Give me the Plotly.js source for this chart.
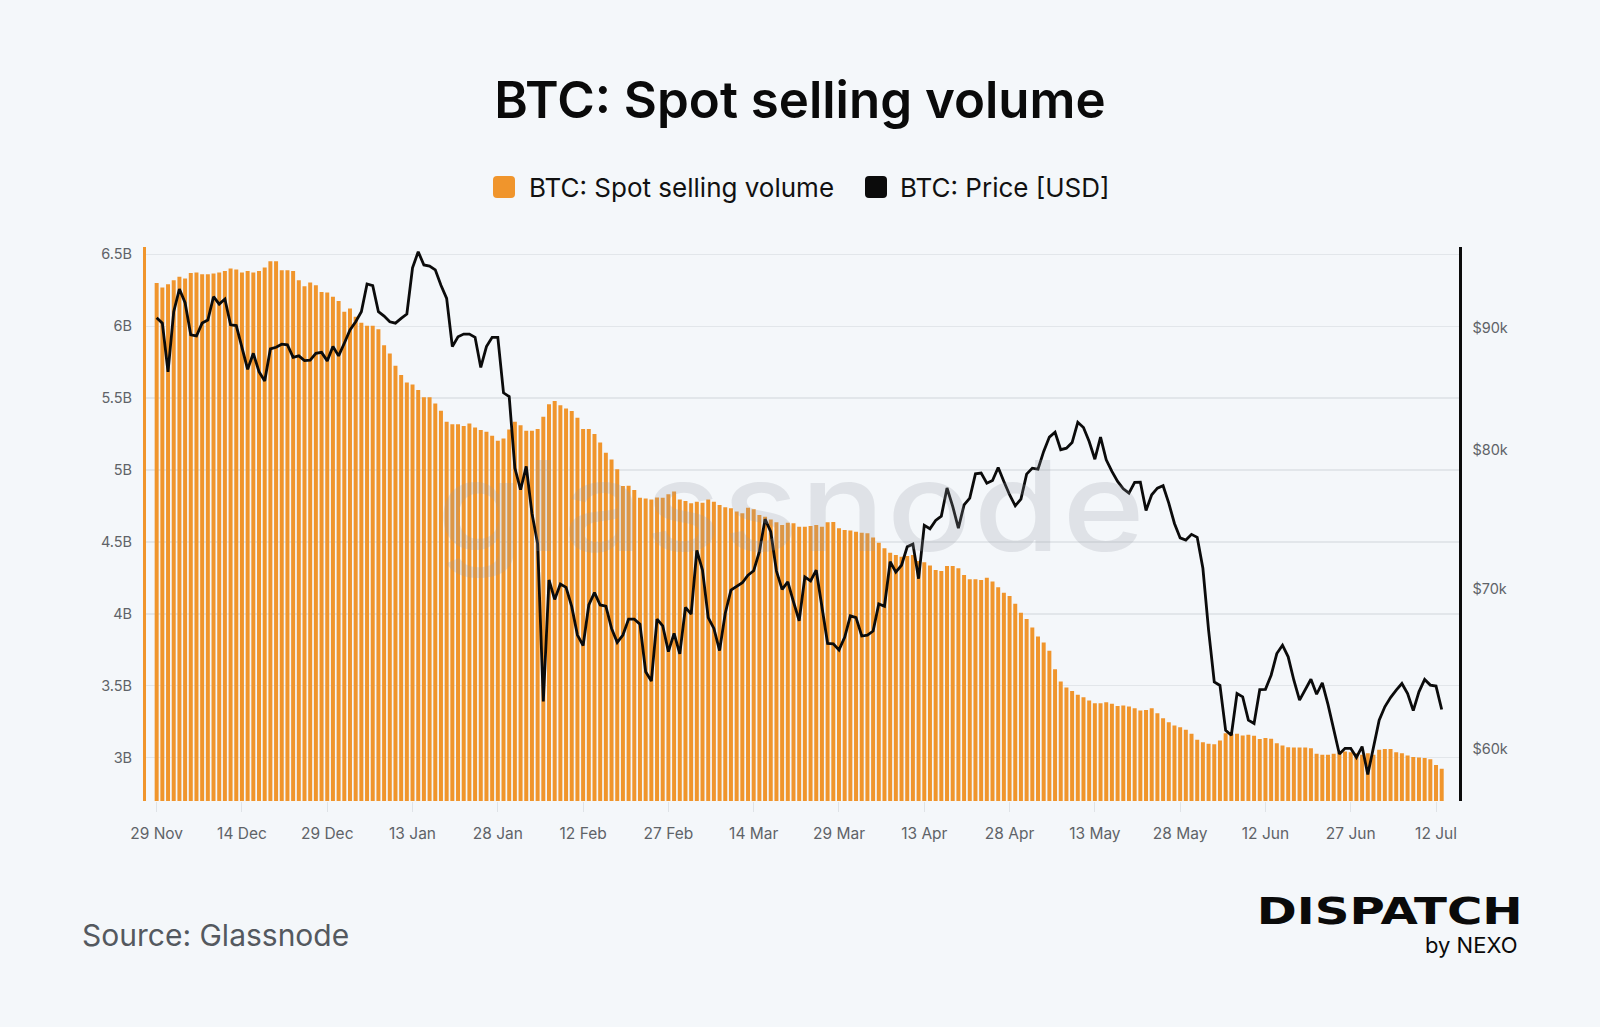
<!DOCTYPE html>
<html>
<head>
<meta charset="utf-8">
<script src="https://cdn.plot.ly/plotly-3.0.1.min.js"></script>
<style>
  html, body { margin: 0; padding: 0; background: #F4F7FA; }
  #chart { width: 1600px; height: 1027px; }
</style>
</head>
<body>
<div id="chart"></div>
<script>
// ---------- DATA ----------
const startDate = '2025-11-29';   // first daily observation
// BTC: Spot selling volume, billions USD (daily, 29 Nov 2025 -> 13 Jul 2026)
const volumeB = [
  6.300, 6.268, 6.292, 6.319, 6.343, 6.331, 6.370, 6.373, 6.361, 6.361,
  6.366, 6.373, 6.384, 6.400, 6.394, 6.373, 6.384, 6.373, 6.384, 6.407,
  6.451, 6.451, 6.389, 6.389, 6.384, 6.319, 6.278, 6.303, 6.285, 6.238,
  6.234, 6.204, 6.174, 6.100, 6.123, 6.065, 6.023, 6.002, 6.002, 5.979,
  5.868, 5.810, 5.725, 5.660, 5.609, 5.595, 5.556, 5.505, 5.505, 5.463,
  5.412, 5.336, 5.319, 5.319, 5.306, 5.324, 5.296, 5.278, 5.266, 5.238,
  5.204, 5.220, 5.282, 5.336, 5.312, 5.273, 5.273, 5.285, 5.370, 5.458,
  5.479, 5.451, 5.428, 5.410, 5.363, 5.285, 5.285, 5.250, 5.192, 5.120,
  5.074, 5.005, 4.889, 4.891, 4.861, 4.808, 4.803, 4.796, 4.810, 4.808,
  4.831, 4.850, 4.796, 4.785, 4.769, 4.780, 4.773, 4.796, 4.780, 4.757,
  4.741, 4.734, 4.711, 4.699, 4.738, 4.727, 4.688, 4.676, 4.657, 4.637,
  4.618, 4.634, 4.630, 4.606, 4.606, 4.611, 4.618, 4.606, 4.637, 4.639,
  4.595, 4.583, 4.579, 4.572, 4.565, 4.560, 4.532, 4.495, 4.456, 4.426,
  4.410, 4.398, 4.403, 4.410, 4.368, 4.359, 4.336, 4.306, 4.299, 4.333,
  4.333, 4.317, 4.271, 4.241, 4.241, 4.236, 4.252, 4.225, 4.185, 4.148,
  4.125, 4.070, 4.009, 3.965, 3.905, 3.843, 3.801, 3.745, 3.616, 3.530,
  3.488, 3.465, 3.438, 3.421, 3.398, 3.380, 3.380, 3.387, 3.375, 3.361,
  3.363, 3.357, 3.345, 3.329, 3.333, 3.345, 3.310, 3.275, 3.248, 3.225,
  3.213, 3.195, 3.167, 3.125, 3.109, 3.097, 3.095, 3.120, 3.171, 3.167,
  3.167, 3.155, 3.160, 3.153, 3.130, 3.137, 3.132, 3.102, 3.086, 3.074,
  3.072, 3.072, 3.072, 3.067, 3.028, 3.021, 3.021, 3.028, 3.037, 3.044,
  3.039, 3.032, 3.021, 3.032, 3.021, 3.056, 3.062, 3.062, 3.039, 3.032,
  3.016, 3.005, 3.002, 2.998, 2.991, 2.951, 2.924
];
// BTC: Price [USD] (daily close)
const priceUSD = [
  90890, 90420, 86280, 91420, 93440, 92220, 89400, 89310, 90420, 90690,
  92750, 92090, 92540, 90270, 90210, 88400, 86480, 87830, 86280, 85510,
  88200, 88340, 88600, 88550, 87490, 87610, 87210, 87250, 87830, 87910,
  87190, 88400, 87610, 88680, 89830, 90540, 91420, 93890, 93740, 91420,
  91040, 90540, 90420, 90830, 91220, 95370, 96860, 95630, 95530, 95180,
  93780, 92600, 88400, 89240, 89470, 89470, 89190, 86640, 88400, 89190,
  89190, 84550, 84240, 78640, 77010, 78770, 75290, 73120, 62800, 70600,
  69290, 70330, 70100, 68810, 66950, 66280, 68920, 69740, 68920, 68840,
  67380, 66480, 66950, 67990, 67990, 67660, 64630, 64050, 67990, 67550,
  65890, 67060, 65750, 68760, 68320, 72650, 71270, 68090, 67380, 65960,
  68370, 69910, 70180, 70410, 70930, 71230, 72550, 74860, 73960, 71210,
  69960, 70470, 69130, 67880, 70810, 70540, 71270, 68810, 66420, 66390,
  66000, 66800, 68200, 68090, 66890, 66950, 67210, 68990, 68840, 71850,
  71140, 71610, 72890, 73080, 70690, 74410, 74170, 74770, 75080, 77140,
  75790, 74220, 75900, 76390, 78200, 78260, 77500, 77700, 78680, 77630,
  76640, 75830, 76320, 78180, 78630, 78560, 79910, 81020, 81400, 80040,
  80160, 80590, 82180, 81770, 80670, 79310, 81020, 79270, 78380, 77630,
  77080, 76760, 77560, 77580, 75490, 76640, 77130, 77310, 76020, 74550,
  73520, 73370, 73770, 73560, 71400, 67270, 63990, 63780, 61080, 60790,
  63280, 63080, 61680, 61480, 63520, 63540, 64410, 65770, 66300, 65560,
  64100, 62880, 63520, 64160, 63240, 63940, 62630, 61120, 59700, 60030,
  60030, 59510, 60130, 58540, 60130, 61680, 62480, 63040, 63490, 63900,
  63280, 62250, 63390, 64150, 63800, 63740, 62320
];
// axis ticks
const xTickDates  = ['2025-11-29','2025-12-14','2025-12-29','2026-01-13','2026-01-28','2026-02-12','2026-02-27','2026-03-14','2026-03-29','2026-04-13','2026-04-28','2026-05-13','2026-05-28','2026-06-12','2026-06-27','2026-07-12'];
const xTickLabels = ['29 Nov','14 Dec','29 Dec','13 Jan','28 Jan','12 Feb','27 Feb','14 Mar','29 Mar','13 Apr','28 Apr','13 May','28 May','12 Jun','27 Jun','12 Jul'];
const volTickVals   = [3e9, 3.5e9, 4e9, 4.5e9, 5e9, 5.5e9, 6e9, 6.5e9];
const volTickLabels = ['3B','3.5B','4B','4.5B','5B','5.5B','6B','6.5B'];
const priceTickVals   = [60000, 70000, 80000, 90000];
const priceTickLabels = ['$60k','$70k','$80k','$90k'];
const seriesNames = ['BTC: Spot selling volume', 'BTC: Price [USD]'];

// ---------- BUILD ----------
function dayList(start, n) {
  const out = [];
  const d0 = new Date(start + 'T00:00:00Z');
  for (let i = 0; i < n; i++) {
    const d = new Date(d0.getTime() + i * 86400000);
    out.push(d.toISOString().slice(0, 10));
  }
  return out;
}
const dates = dayList(startDate, volumeB.length);

const ORANGE = '#F0952C';
const BG = '#F4F7FA';
const FONT = 'Inter, "Noto Sans", sans-serif';

// plot area in pixels (for placing layout decorations)
const L = 146, R = 141, T = 247, B = 226, W = 1600, H = 1027;
const pw = W - L - R, ph = H - T - B;
const px = x => (x - L) / pw;
const py = y => (H - B - y) / ph;

const traces = [
  {
    type: 'bar', name: seriesNames[0], x: dates, y: volumeB.map(v => v * 1e9),
    marker: { color: ORANGE, line: { width: 0 } }, yaxis: 'y', showlegend: false,
    hoverinfo: 'x+y'
  },
  {
    type: 'scatter', mode: 'lines', name: seriesNames[1], x: dates, y: priceUSD,
    line: { color: '#0b0b0b', width: 2.8, shape: 'linear' }, yaxis: 'y2', showlegend: false
  }
];

const annotations = [
  // watermark
  { text: 'glassnode', xref: 'paper', yref: 'paper', x: px(792), y: py(505),
    xanchor: 'center', yanchor: 'middle', showarrow: false,
    font: { family: FONT, size: 125, weight: 500, color: 'rgba(150,155,165,0.22)' } },
  // legend texts
  { text: seriesNames[0], xref: 'paper', yref: 'paper', x: px(527), y: py(187),
    xanchor: 'left', yanchor: 'middle', showarrow: false,
    font: { family: FONT, size: 26, color: '#111111' } },
  { text: seriesNames[1], xref: 'paper', yref: 'paper', x: px(898), y: py(187),
    xanchor: 'left', yanchor: 'middle', showarrow: false,
    font: { family: FONT, size: 26, color: '#111111' } },
  // footer
  { text: 'Source: Glassnode', xref: 'paper', yref: 'paper', x: px(80), y: py(935),
    xanchor: 'left', yanchor: 'middle', showarrow: false,
    font: { family: FONT, size: 30, color: '#54595f' } },
  { text: 'DISPATCH', xref: 'paper', yref: 'paper', x: px(1389), y: py(911),
    xanchor: 'center', yanchor: 'middle', showarrow: false,
    font: { family: '"DejaVu Sans", sans-serif', size: 38, weight: 700, color: '#0a0a0a' } },
  { text: 'by NEXO', xref: 'paper', yref: 'paper', x: px(1519), y: py(945),
    xanchor: 'right', yanchor: 'middle', showarrow: false,
    font: { family: FONT, size: 22, weight: 400, color: '#0a0a0a' } }
];

function roundRect(x0, y0, x1, y1, r) {
  const X = v => px(v), Y = v => py(v);
  return `M ${X(x0 + r)} ${Y(y0)} L ${X(x1 - r)} ${Y(y0)} Q ${X(x1)} ${Y(y0)} ${X(x1)} ${Y(y0 + r)} ` +
         `L ${X(x1)} ${Y(y1 - r)} Q ${X(x1)} ${Y(y1)} ${X(x1 - r)} ${Y(y1)} L ${X(x0 + r)} ${Y(y1)} ` +
         `Q ${X(x0)} ${Y(y1)} ${X(x0)} ${Y(y1 - r)} L ${X(x0)} ${Y(y0 + r)} Q ${X(x0)} ${Y(y0)} ${X(x0 + r)} ${Y(y0)} Z`;
}

const shapes = [
  { type: 'path', xref: 'paper', yref: 'paper', path: roundRect(493, 176, 515, 198, 4),
    fillcolor: ORANGE, line: { width: 0 } },
  { type: 'path', xref: 'paper', yref: 'paper', path: roundRect(865, 176, 887, 198, 4),
    fillcolor: '#0b0b0b', line: { width: 0 } }
];

const layout = {
  width: W, height: H,
  paper_bgcolor: BG, plot_bgcolor: BG,
  margin: { l: L, r: R, t: T, b: B, pad: 0 },
  font: { family: FONT, color: '#5f6368' },
  title: {
    text: 'BTC: Spot selling volume', xref: 'container', x: 0.5, xanchor: 'center',
    yref: 'container', y: 1 - 100 / H, yanchor: 'middle',
    font: { family: FONT, size: 51, weight: 600, color: '#0a0a0a' }
  },
  showlegend: false,
  bargap: 0.3,
  xaxis: {
    type: 'date',
    range: ['2025-11-27 03:00', '2026-07-16 01:00'],
    tickmode: 'array', tickvals: xTickDates, ticktext: xTickLabels,
    ticks: 'outside', ticklen: 10, tickwidth: 1, tickcolor: '#dfe3e7',
    ticklabelstandoff: 8,
    showgrid: false, zeroline: false, showline: false,
    tickfont: { family: FONT, size: 15.5, color: '#5f6368' }
  },
  yaxis: {
    range: [2.70e9, 6.55e9],
    tickmode: 'array', tickvals: volTickVals, ticktext: volTickLabels,
    showgrid: true, gridcolor: '#e2e6ea', gridwidth: 1.2,
    zeroline: false, showline: true, linecolor: ORANGE, linewidth: 3,
    ticks: '', ticklabelstandoff: 8,
    tickfont: { family: FONT, size: 14.5, color: '#5f6368' }
  },
  yaxis2: {
    type: 'log', overlaying: 'y', side: 'right',
    range: [Math.log10(57060), Math.log10(97300)],
    tickmode: 'array', tickvals: priceTickVals, ticktext: priceTickLabels,
    showgrid: false, zeroline: false, showline: true, linecolor: '#0b0b0b', linewidth: 2.5,
    ticks: '', ticklabelstandoff: 8,
    tickfont: { family: FONT, size: 14.5, color: '#5f6368' }
  },
  annotations: annotations,
  shapes: shapes
};

Plotly.newPlot('chart', traces, layout, { displayModeBar: false, staticPlot: true }).then(gd => {
  // widen the wordmarks to match the branding (horizontal stretch about their centre)
  gd.querySelectorAll('.annotation-text').forEach(t => {
    const stretch = (sx, ls) => {
      t.style.letterSpacing = ls;
      t.style.transformBox = 'fill-box';
      t.style.transformOrigin = 'center';
      t.style.transform = `scaleX(${sx})`;
    };
    if (t.textContent === 'DISPATCH') stretch(1.27, '0px');
    if (t.textContent === 'glassnode') stretch(1.12, '2px');
  });
});
</script>
</body>
</html>
